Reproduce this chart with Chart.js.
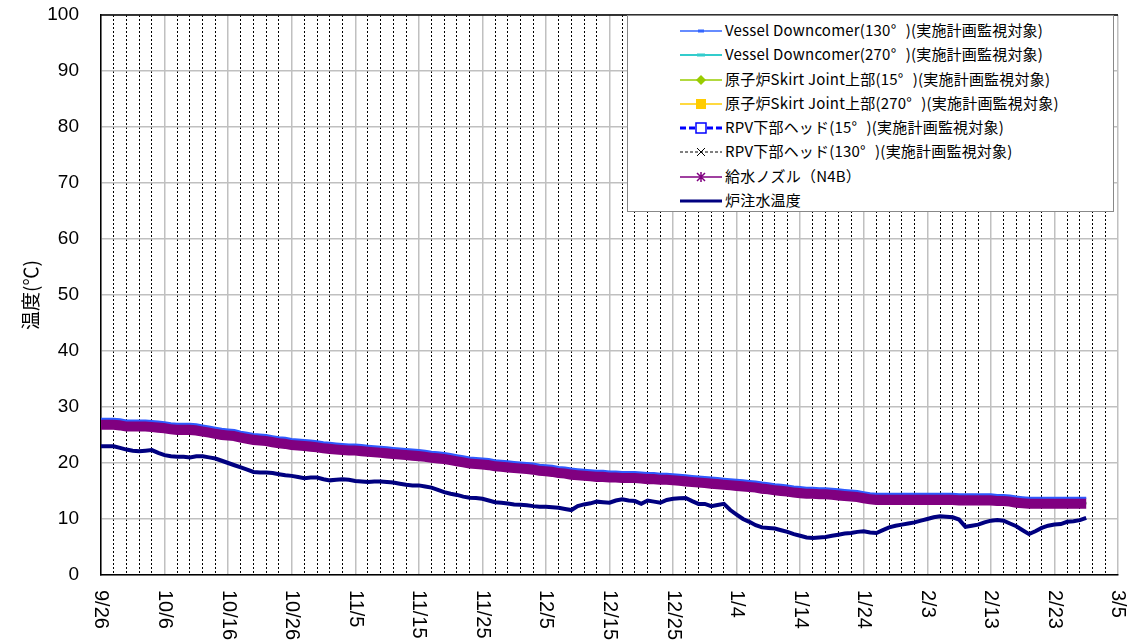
<!DOCTYPE html>
<html>
<head>
<meta charset="utf-8">
<script src="https://cdn.jsdelivr.net/npm/chart.js@4.4.1/dist/chart.umd.min.js"></script>
<style>
  html, body { margin: 0; padding: 0; background: #fff; }
  #wrap { position: relative; width: 1144px; height: 640px; }
  #myChart { position: absolute; left: 0; top: 0; }
  #legend {
    position: absolute; left: 627px; top: 15px; width: 487px; height: 197px;
    background: #fff; border: 1px solid #888; box-sizing: border-box;
    font-family: "Noto Sans CJK JP", sans-serif; font-size: 15px; color: #000;
    padding-top: 3px;
  }
  .row { position: relative; height: 24.3px; }
  .row svg { position: absolute; left: 52px; top: 4px; }
  .row span.txt { position: absolute; left: 97px; top: 1px; white-space: nowrap; line-height: 19px; letter-spacing: 0.2px; }
  .deg { display: inline-block; width: 1em; }
</style>
</head>
<body>
<div id="wrap">
  <canvas id="myChart" width="1144" height="640"></canvas>
  <div id="legend"></div>
</div>
<script>
// Dados
const tickLabels = ['9/26','10/6','10/16','10/26','11/5','11/15','11/25','12/5','12/15','12/25','1/4','1/14','1/24','2/3','2/13','2/23','3/5'];

// Vessel Downcomer(130°) - borda azul acima da faixa
const downcomer130 = [
  27.9, 27.9, 27.9, 27.8, 27.6, 27.6, 27.6, 27.6, 27.5, 27.4,
  27.3, 27.1, 27.0, 27.0, 27.0, 26.9, 26.7, 26.5, 26.3, 26.1,
  26.0, 25.9, 25.6, 25.4, 25.2, 25.1, 25.0, 24.8, 24.6, 24.5,
  24.3, 24.2, 24.1, 24.0, 23.9, 23.7, 23.6, 23.5, 23.4, 23.3,
  23.3, 23.2, 23.1, 23.0, 22.9, 22.8, 22.7, 22.6, 22.5, 22.4,
  22.3, 22.2, 22.0, 21.9, 21.8, 21.6, 21.4, 21.2, 21.0, 20.9,
  20.8, 20.7, 20.5, 20.4, 20.3, 20.2, 20.1, 20.0, 19.9, 19.7,
  19.6, 19.5, 19.3, 19.2, 19.0, 18.9, 18.8, 18.7, 18.6, 18.6,
  18.5, 18.5, 18.4, 18.4, 18.4, 18.3, 18.2, 18.2, 18.1, 18.1,
  18.0, 17.9, 17.8, 17.7, 17.6, 17.5, 17.4, 17.3, 17.2, 17.1,
  17.0, 16.9, 16.8, 16.7, 16.5, 16.4, 16.2, 16.1, 16.0, 15.8,
  15.7, 15.6, 15.6, 15.5, 15.5, 15.4, 15.3, 15.2, 15.1, 15.0,
  14.8, 14.6, 14.5, 14.5, 14.5, 14.5, 14.5, 14.5, 14.5, 14.5,
  14.5, 14.5, 14.5, 14.5, 14.5, 14.4, 14.4, 14.4, 14.4, 14.4,
  14.4, 14.3, 14.3, 14.2, 14.0, 13.9, 13.8, 13.8, 13.8, 13.8,
  13.8, 13.8, 13.8, 13.8, 13.8, 13.8
];

// 給水ノズル(N4B) e demais sensores (faixa roxa)
const feedwater = [
  26.9, 26.9, 26.9, 26.8, 26.6, 26.6, 26.6, 26.6, 26.5, 26.4,
  26.3, 26.1, 26.0, 26.0, 26.0, 25.9, 25.7, 25.5, 25.3, 25.1,
  25.0, 24.9, 24.6, 24.4, 24.2, 24.1, 24.0, 23.8, 23.6, 23.5,
  23.3, 23.2, 23.1, 23.0, 22.9, 22.7, 22.6, 22.5, 22.4, 22.3,
  22.3, 22.2, 22.1, 22.0, 21.9, 21.8, 21.7, 21.6, 21.5, 21.4,
  21.3, 21.2, 21.0, 20.9, 20.8, 20.6, 20.4, 20.2, 20.0, 19.9,
  19.8, 19.7, 19.5, 19.4, 19.3, 19.2, 19.1, 19.0, 18.9, 18.7,
  18.6, 18.5, 18.3, 18.2, 18.0, 17.9, 17.8, 17.7, 17.6, 17.6,
  17.5, 17.5, 17.4, 17.4, 17.4, 17.3, 17.2, 17.2, 17.1, 17.1,
  17.0, 16.9, 16.8, 16.7, 16.6, 16.5, 16.4, 16.3, 16.2, 16.1,
  16.0, 15.9, 15.8, 15.7, 15.5, 15.4, 15.2, 15.1, 15.0, 14.8,
  14.7, 14.6, 14.6, 14.5, 14.5, 14.4, 14.3, 14.2, 14.1, 14.0,
  13.8, 13.6, 13.5, 13.5, 13.5, 13.5, 13.5, 13.5, 13.5, 13.5,
  13.5, 13.5, 13.5, 13.5, 13.5, 13.4, 13.4, 13.4, 13.4, 13.4,
  13.4, 13.3, 13.3, 13.2, 13.0, 12.9, 12.8, 12.8, 12.8, 12.8,
  12.8, 12.8, 12.8, 12.8, 12.8, 12.8
];

// 炉注水温度
const injection = [
  23.0, 23.0, 23.0, 22.7, 22.4, 22.2, 22.1, 22.2, 22.3, 21.8,
  21.4, 21.2, 21.1, 21.1, 21.0, 21.2, 21.2, 21.0, 20.8, 20.4,
  20.0, 19.6, 19.2, 18.8, 18.4, 18.3, 18.3, 18.2, 18.0, 17.8,
  17.7, 17.5, 17.3, 17.4, 17.4, 17.1, 16.9, 17.0, 17.1, 17.0,
  16.8, 16.7, 16.6, 16.7, 16.7, 16.6, 16.5, 16.3, 16.1, 16.0,
  16.0, 15.8, 15.6, 15.2, 14.8, 14.5, 14.3, 14.0, 13.8, 13.75,
  13.6, 13.3, 13.0, 12.9, 12.75, 12.6, 12.55, 12.45, 12.3, 12.2,
  12.2, 12.1, 12.0, 11.8, 11.6, 12.3, 12.6, 12.8, 13.1, 13.0,
  12.9, 13.3, 13.5, 13.3, 13.2, 12.7, 13.3, 13.1, 12.9, 13.4,
  13.6, 13.7, 13.75, 13.2, 12.7, 12.7, 12.3, 12.5, 12.7, 11.6,
  10.8, 10.0, 9.5, 8.9, 8.5, 8.4, 8.3, 8.0, 7.7, 7.3,
  7.0, 6.7, 6.6, 6.7, 6.8, 7.0, 7.2, 7.4, 7.5, 7.7,
  7.8, 7.6, 7.5, 8.0, 8.5, 8.8, 9.0, 9.2, 9.4, 9.7,
  10.0, 10.3, 10.5, 10.4, 10.3, 9.9, 8.6, 8.8, 9.0, 9.4,
  9.7, 9.8, 9.7, 9.2, 8.7, 8.0, 7.3, 7.8, 8.4, 8.8,
  9.0, 9.1, 9.5, 9.6, 9.8, 10.2
];

function pontos(arr) {
    return arr.map((v, i) => ({ x: i, y: v }));
}

// Legenda
const legendItems = [
    { txt: 'Vessel Downcomer(130<span class="deg">°</span>)(実施計画監視対象)',
      svg: '<line x1="0" y1="8" x2="42" y2="8" stroke="#3366FF" stroke-width="1.5"/><rect x="18" y="6.5" width="6" height="3" fill="#3366FF"/>' },
    { txt: 'Vessel Downcomer(270<span class="deg">°</span>)(実施計画監視対象)',
      svg: '<line x1="0" y1="8" x2="42" y2="8" stroke="#33CCCC" stroke-width="2"/><rect x="17" y="6.5" width="8" height="3" fill="#33CCCC"/>' },
    { txt: '原子炉Skirt Joint上部(15<span class="deg">°</span>)(実施計画監視対象)',
      svg: '<line x1="0" y1="8" x2="42" y2="8" stroke="#99CC00" stroke-width="1.5"/><polygon points="21,3 26,8 21,13 16,8" fill="#99CC00"/>' },
    { txt: '原子炉Skirt Joint上部(270<span class="deg">°</span>)(実施計画監視対象)',
      svg: '<line x1="0" y1="8" x2="42" y2="8" stroke="#FFCC00" stroke-width="1.5"/><rect x="16" y="3" width="10" height="10" fill="#FFCC00"/>' },
    { txt: 'RPV下部ヘッド(15<span class="deg">°</span>)(実施計画監視対象)',
      svg: '<line x1="0" y1="8" x2="42" y2="8" stroke="#0000FF" stroke-width="3" stroke-dasharray="6,3"/><rect x="16" y="3" width="10" height="10" fill="#fff" stroke="#0000FF" stroke-width="1.5"/>' },
    { txt: 'RPV下部ヘッド(130<span class="deg">°</span>)(実施計画監視対象)',
      svg: '<line x1="0" y1="8" x2="42" y2="8" stroke="#000" stroke-width="1" stroke-dasharray="3,2"/><path d="M17,4 L25,12 M25,4 L17,12" stroke="#000" stroke-width="1"/>' },
    { txt: '給水ノズル（N4B）',
      svg: '<line x1="0" y1="8" x2="42" y2="8" stroke="#800080" stroke-width="1.5"/><path d="M17,4 L25,12 M25,4 L17,12 M21,3 L21,13" stroke="#800080" stroke-width="1.5"/>' },
    { txt: '炉注水温度',
      svg: '<line x1="0" y1="8" x2="42" y2="8" stroke="#000080" stroke-width="3"/>' }
];

let legendDiv = document.getElementById('legend');
legendItems.forEach(item => {
    let row = document.createElement('div');
    row.className = 'row';
    row.innerHTML = '<svg width="42" height="16">' + item.svg + '</svg><span class="txt">' + item.txt + '</span>';
    legendDiv.appendChild(row);
});

// Rótulos do eixo X (girados) e borda superior
const rotuloPlugin = {
    id: 'rotulos',
    afterDraw(chart) {
        const c = chart.ctx;
        const xs = chart.scales.x;
        const area = chart.chartArea;
        c.save();
        c.strokeStyle = '#000';
        c.lineWidth = 1.5;
        c.beginPath();
        c.moveTo(area.left, area.top);
        c.lineTo(area.right, area.top);
        c.stroke();
        c.fillStyle = '#000';
        c.font = '20px "Liberation Sans", Arial, sans-serif';
        c.textAlign = 'left';
        c.textBaseline = 'middle';
        tickLabels.forEach((lbl, i) => {
            const px = xs.getPixelForValue(i * 10);
            c.save();
            c.translate(px, area.bottom + 15);
            c.rotate(Math.PI / 2);
            c.fillText(lbl, 0, 0);
            c.restore();
        });
        c.restore();
    }
};

const ctx = document.getElementById('myChart');

new Chart(ctx, {
    type: 'line',
    data: {
        datasets: [
            { label: '炉注水温度', data: pontos(injection), borderColor: '#000080', borderWidth: 4, pointRadius: 0, order: 0 },
            { label: 'Vessel Downcomer(130°)', data: pontos(downcomer130), borderColor: '#2E5BFF', borderWidth: 2, pointRadius: 0, order: 1 },
            { label: '給水ノズル(N4B)', data: pontos(feedwater), borderColor: '#800080', borderWidth: 11, pointRadius: 0, order: 2 },
            { label: 'Vessel Downcomer(270°)', data: pontos(feedwater), borderColor: '#33CCCC', borderWidth: 2, pointRadius: 0, order: 3 },
            { label: '原子炉Skirt Joint上部(15°)', data: pontos(feedwater), borderColor: '#99CC00', borderWidth: 2, pointRadius: 0, order: 4 },
            { label: '原子炉Skirt Joint上部(270°)', data: pontos(feedwater), borderColor: '#FFCC00', borderWidth: 2, pointRadius: 0, order: 5 },
            { label: 'RPV下部ヘッド(15°)', data: pontos(feedwater), borderColor: '#0000FF', borderWidth: 3, borderDash: [6, 3], pointRadius: 0, order: 6 },
            { label: 'RPV下部ヘッド(130°)', data: pontos(feedwater), borderColor: '#000', borderWidth: 1, borderDash: [3, 2], pointRadius: 0, order: 7 }
        ]
    },
    options: {
        responsive: false,
        animation: false,
        layout: {
            padding: { left: 0, right: 26, top: 15, bottom: 0 }
        },
        plugins: {
            legend: { display: false },
            tooltip: { enabled: false }
        },
        scales: {
            x: {
                type: 'linear',
                min: 0,
                max: 160,
                ticks: { stepSize: 10, display: false, maxTicksLimit: 200 },
                grid: { color: '#c0c0c0', lineWidth: 1.5, drawTicks: false },
                border: { color: '#000', width: 1.5 },
                afterFit(s) { s.height = 65; s.paddingLeft = 0; s.paddingRight = 0; }
            },
            xMinor: {
                type: 'linear',
                position: 'bottom',
                min: 0,
                max: 160,
                ticks: { stepSize: 2, display: false, maxTicksLimit: 200 },
                grid: {
                    color: c => (c.tick && c.tick.value % 10 === 0) ? 'rgba(0,0,0,0)' : '#000',
                    lineWidth: 1,
                    drawTicks: false
                },
                border: { display: false, dash: [2, 2] },
                afterFit(s) { s.height = 0; s.paddingLeft = 0; s.paddingRight = 0; }
            },
            y: {
                min: 0,
                max: 100,
                ticks: {
                    stepSize: 10,
                    color: '#000',
                    padding: 22,
                    font: { family: '"Liberation Sans", Arial, sans-serif', size: 19 }
                },
                grid: { color: '#c0c0c0', lineWidth: 1.5, drawTicks: false },
                border: { color: '#000', width: 1.5 },
                title: {
                    display: true,
                    text: '温度(℃)',
                    color: '#000',
                    padding: { top: 19, bottom: 0 },
                    font: { family: '"Noto Sans CJK JP", sans-serif', size: 19 }
                },
                afterFit(s) { s.width = 101; s.paddingTop = 0; s.paddingBottom = 0; }
            }
        }
    },
    plugins: [rotuloPlugin]
});
</script>
</body>
</html>
